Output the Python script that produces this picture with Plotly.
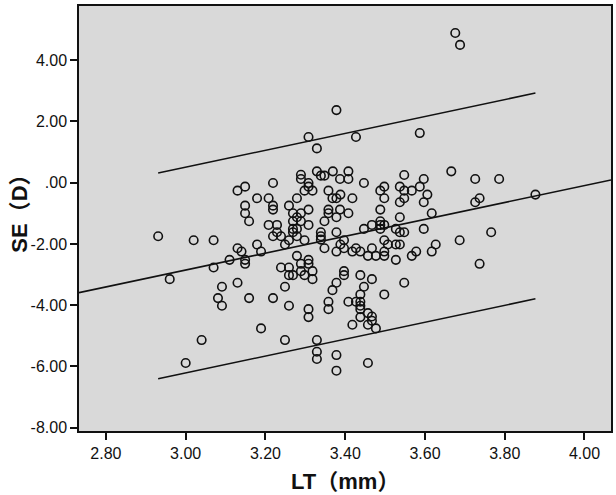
import plotly.graph_objects as go
import numpy as np

# LT (mm) values
lt = [3.676, 3.688, 3.378, 3.308, 3.427, 3.329, 3.587,
      3.666, 3.329, 3.369, 3.408, 3.289, 3.289, 3.339, 3.348, 3.548, 3.726, 3.786, 3.597, 3.387, 3.408,
      3.219, 3.308, 3.308, 3.447, 3.498, 3.537, 3.587, 3.149, 3.130, 3.298, 3.318, 3.358, 3.488, 3.548, 3.567,
      3.606, 3.388, 3.877, 3.179, 3.208, 3.279, 3.368, 3.378, 3.418, 3.498, 3.548, 3.737, 3.726, 3.537, 3.597,
      3.219, 3.149, 3.259, 3.219, 3.308, 3.358, 3.387, 3.488, 3.149, 3.269, 3.289, 3.358, 3.408, 3.617,
      3.279, 3.378, 3.537, 3.159, 3.269, 3.289, 3.348, 3.488, 3.208, 3.229, 3.308, 3.467, 3.488, 3.498,
      3.279, 3.269, 3.447, 3.488, 3.527, 3.597, 3.229, 3.269, 3.339, 3.378, 3.537, 3.548, 3.766,
      2.931, 3.219, 3.239, 3.279, 3.339, 3.339, 3.020, 3.070, 3.298, 3.259, 3.397, 3.498, 3.687,
      3.388, 3.249, 3.179, 3.507, 3.527, 3.537, 3.627, 3.130, 3.348, 3.397, 3.427, 3.467,
      3.140, 3.189, 3.378, 3.418, 3.438, 3.498, 3.578, 3.617, 3.279, 3.457, 3.477, 3.498, 3.567,
      3.110, 3.149, 3.308, 3.527, 3.149, 3.289, 3.308, 3.737, 3.070, 3.239, 3.259, 3.289, 3.318, 3.397,
      3.397, 3.259, 3.269, 3.298, 3.438, 2.960, 3.318, 3.467, 3.130, 3.378, 3.548, 3.091, 3.249, 3.447,
      3.368, 3.438, 3.498, 3.081, 3.159, 3.219, 3.358, 3.408, 3.427, 3.438, 3.091, 3.259, 3.438,
      3.308, 3.358, 3.438, 3.457, 3.467, 3.438, 3.308, 3.467, 3.418, 3.457, 3.477, 3.189,
      3.040, 3.249, 3.329, 3.329, 3.378, 3.329, 3.000, 3.457, 3.378]

# SE (D) values
se = [4.89, 4.50, 2.37, 1.49, 1.49, 1.12, 1.62,
      0.37, 0.37, 0.37, 0.37, 0.26, 0.12, 0.23, 0.23, 0.25, 0.12, 0.12, 0.12, 0.12, 0.12,
      -0.01, -0.01, -0.13, -0.01, -0.13, -0.13, -0.13, -0.13, -0.26, -0.26, -0.26, -0.26, -0.26, -0.26, -0.26,
      -0.39, -0.39, -0.39, -0.51, -0.51, -0.51, -0.51, -0.51, -0.51, -0.51, -0.51, -0.51, -0.64, -0.64, -0.64,
      -0.75, -0.75, -0.75, -0.88, -0.88, -0.88, -0.88, -0.88, -1.00, -1.00, -1.00, -1.00, -1.00, -1.00,
      -1.13, -1.13, -1.13, -1.26, -1.26, -1.26, -1.26, -1.26, -1.38, -1.38, -1.38, -1.38, -1.38, -1.38,
      -1.51, -1.51, -1.51, -1.51, -1.51, -1.51, -1.62, -1.62, -1.62, -1.62, -1.62, -1.62, -1.62,
      -1.75, -1.75, -1.75, -1.75, -1.75, -1.86, -1.88, -1.88, -1.88, -1.88, -1.88, -1.88, -1.88,
      -2.02, -2.02, -2.02, -2.02, -2.02, -2.02, -2.02, -2.14, -2.14, -2.14, -2.14, -2.14,
      -2.25, -2.25, -2.25, -2.25, -2.25, -2.25, -2.25, -2.25, -2.39, -2.39, -2.39, -2.39, -2.39,
      -2.52, -2.52, -2.52, -2.52, -2.65, -2.65, -2.65, -2.65, -2.77, -2.77, -2.77, -2.89, -2.89, -2.89,
      -3.02, -3.02, -3.02, -3.02, -3.02, -3.15, -3.15, -3.15, -3.27, -3.27, -3.27, -3.40, -3.40, -3.40,
      -3.51, -3.65, -3.65, -3.77, -3.77, -3.77, -3.89, -3.89, -3.89, -3.89, -4.02, -4.02, -4.02,
      -4.13, -4.13, -4.13, -4.26, -4.37, -4.39, -4.39, -4.51, -4.64, -4.64, -4.76, -4.76,
      -5.14, -5.14, -5.14, -5.52, -5.63, -5.76, -5.89, -5.89, -6.14]

# Fit line parameters
fit_intercept = -11.134
fit_slope = 2.76
pi_half_width = 3.36

x_ticks = [2.80, 3.00, 3.20, 3.40, 3.60, 3.80, 4.00]
x_tick_text = ["2.80", "3.00", "3.20", "3.40", "3.60", "3.80", "4.00"]
y_ticks = [4.0, 2.0, 0.0, -2.0, -4.0, -6.0, -8.0]
y_tick_text = ["4.00", "2.00", ".00", "-2.00", "-4.00", "-6.00", "-8.00"]

x_title = "<b>LT<span style='font-family:Noto Sans CJK SC'>（</span>mm<span style='font-family:Noto Sans CJK SC'>）</span></b>"
y_title = "<b>SE<span style='font-family:Noto Sans CJK SC'>（</span>D<span style='font-family:Noto Sans CJK SC'>）</span></b>"

x_range = [2.7325, 4.0665]
y_range = [-8.11, 5.77]

fig = go.Figure()

xf = np.array(x_range)
fig.add_trace(go.Scatter(x=xf, y=fit_intercept + fit_slope * xf, mode="lines",
                         line=dict(color="#111111", width=1.6), hoverinfo="skip"))

xd = np.array([min(lt), max(lt)])
yc = fit_intercept + fit_slope * xd
fig.add_trace(go.Scatter(x=xd, y=yc + pi_half_width, mode="lines",
                         line=dict(color="#111111", width=1.6), hoverinfo="skip"))
fig.add_trace(go.Scatter(x=xd, y=yc - pi_half_width, mode="lines",
                         line=dict(color="#111111", width=1.6), hoverinfo="skip"))

fig.add_trace(go.Scatter(x=lt, y=se, mode="markers",
                         marker=dict(symbol="circle-open", size=8.5, color="#111111",
                                     line=dict(width=1.6, color="#111111"))))

axis_font = dict(family="Arial, Liberation Sans, sans-serif", size=16, color="#111111")
title_font = dict(family="Arial, Liberation Sans, sans-serif", size=22, color="#111111")

fig.update_layout(
    width=616, height=495,
    margin=dict(l=79, r=3, t=6, b=64),
    paper_bgcolor="white",
    plot_bgcolor="#d9d9d9",
    showlegend=False,
    xaxis=dict(range=x_range, tickvals=x_ticks, ticktext=x_tick_text,
               showgrid=False, zeroline=False, showline=True, linecolor="#111111",
               linewidth=1.5, mirror=True, ticks="outside", ticklen=7, tickwidth=1.5,
               tickcolor="#111111", tickfont=axis_font),
    yaxis=dict(range=y_range, tickvals=y_ticks, ticktext=y_tick_text,
               showgrid=False, zeroline=False, showline=True, linecolor="#111111",
               linewidth=1.5, mirror=True, ticks="outside", ticklen=7, tickwidth=1.5,
               tickcolor="#111111", tickfont=axis_font),
    annotations=[
        dict(text=x_title, xref="paper", yref="paper", x=0.5, y=-0.112,
             xanchor="center", yanchor="middle", showarrow=False, font=title_font),
        dict(text=y_title, xref="paper", yref="paper", x=-0.118, y=0.5235,
             xanchor="center", yanchor="middle", showarrow=False, textangle=-90,
             font=title_font),
    ],
)

fig.write_html("out.html", config={"displayModeBar": False},
               post_script="document.body.style.margin='0';")
